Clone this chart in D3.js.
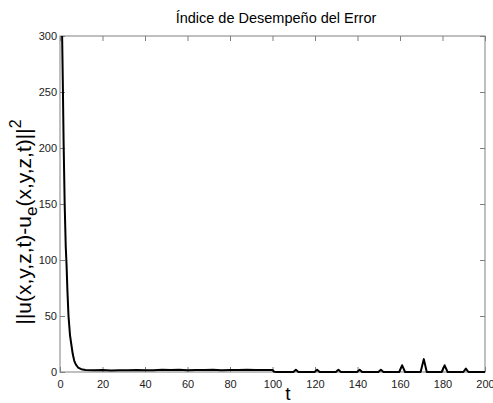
<!DOCTYPE html>
<html>
<head>
<meta charset="utf-8">
<script src="https://cdn.jsdelivr.net/npm/d3@7"></script>
<style>
  body { margin: 0; background: #fff; }
  svg { font-family: "Liberation Sans", Arial, sans-serif; }
</style>
</head>
<body>
<script>
// error index curve
var tValues = [1.0, 1.3, 1.7, 2.2, 2.7, 3.1, 3.5, 4.0, 4.7, 5.3, 6.0, 6.7, 7.5, 8.5, 10, 12,
  16, 20, 24, 28, 32, 36, 40, 44, 48, 52, 56, 60, 64, 68, 72, 76, 80, 84, 88, 92, 96, 100,
  100.8, 102, 109.8, 111, 112.2, 119.8, 121, 122.2, 129.8, 131, 132.2, 139.8, 141, 142.2,
  149.8, 151, 152.2, 159.6, 161, 162.4, 169.7, 171.2, 172.6, 179.6, 181, 182.4, 189.8, 191, 192.2, 200];
var errValues = [300, 262, 205, 150, 112, 95, 72, 50, 33, 25, 16, 10, 6.5, 4, 2.5, 1.8,
  1.5, 1.7, 1.4, 1.6, 1.5, 1.8, 1.6, 1.5, 1.9, 1.7, 2.0, 1.6, 1.8, 1.7, 1.9, 1.6, 1.8, 1.7, 1.9, 1.8, 1.7, 1.8,
  0.2, 0, 0, 2.0, 0, 0, 2.0, 0, 0, 2.0, 0, 0, 2.0, 0, 0, 2.0, 0, 0, 6.0, 0, 0, 11.5, 0, 0, 6.0, 0, 0, 3.0, 0, 0];

var xTicks = d3.range(0, 201, 20);
var yTicks = d3.range(0, 301, 50);

var width = 493, height = 403;
var margin = { left: 60, right: 8, top: 36, bottom: 31 };

var svg = d3.select('body').append('svg')
    .attr('width', width)
    .attr('height', height);

var x = d3.scaleLinear().domain([0, 200]).range([margin.left, width - margin.right]);
var y = d3.scaleLinear().domain([0, 300]).range([height - margin.bottom, margin.top]);

var axisColor = '#808080';

// box around the plot
svg.append('rect')
    .attr('x', x(0)).attr('y', y(300))
    .attr('width', x(200) - x(0)).attr('height', y(0) - y(300))
    .attr('fill', 'none').attr('stroke', axisColor).attr('stroke-width', 1);

function styleAxis(g) {
    g.select('.domain').remove();
    g.selectAll('.tick line').attr('stroke', axisColor);
    g.selectAll('.tick text').attr('fill', '#222').style('font-size', '11px');
}

// inward ticks on all four sides
svg.append('g').attr('transform', `translate(0,${y(0)})`)
    .call(d3.axisBottom(x).tickValues(xTicks).tickSize(-5).tickPadding(8))
    .call(styleAxis);
svg.append('g').attr('transform', `translate(0,${y(300)})`)
    .call(d3.axisTop(x).tickValues(xTicks).tickSize(-5).tickFormat(''))
    .call(styleAxis);
svg.append('g').attr('transform', `translate(${x(0)},0)`)
    .call(d3.axisLeft(y).tickValues(yTicks).tickSize(-5).tickPadding(3))
    .call(styleAxis);
svg.append('g').attr('transform', `translate(${x(200)},0)`)
    .call(d3.axisRight(y).tickValues(yTicks).tickSize(-5).tickFormat(''))
    .call(styleAxis);

var pts = tValues.map(function(t, i) { return [t, errValues[i]]; });

var line = d3.line()
    .x(function(d) { return x(d[0]); })
    .y(function(d) { return y(d[1]); });

svg.append('path')
    .datum(pts)
    .attr('d', line)
    .attr('fill', 'none')
    .attr('stroke', '#000')
    .attr('stroke-width', 2)
    .attr('stroke-linejoin', 'round');

// title and labels
svg.append('text')
    .attr('x', 276).attr('y', 23)
    .attr('text-anchor', 'middle')
    .style('font-size', '14.5px')
    .text('Índice de Desempeño del Error');

svg.append('text')
    .attr('x', 288).attr('y', 400)
    .attr('text-anchor', 'middle')
    .style('font-size', '19px')
    .text('t');

var yl = svg.append('text')
    .attr('transform', 'translate(31,222) rotate(-90)')
    .attr('text-anchor', 'middle')
    .style('font-size', '21px');
yl.append('tspan').text('||u(x,y,z,t)-u');
yl.append('tspan').attr('dy', 6).style('font-size', '17px').text('e');
yl.append('tspan').attr('dy', -6).text('(x,y,z,t)||');
yl.append('tspan').attr('dy', -10).style('font-size', '16px').text('2');
</script>
</body>
</html>
